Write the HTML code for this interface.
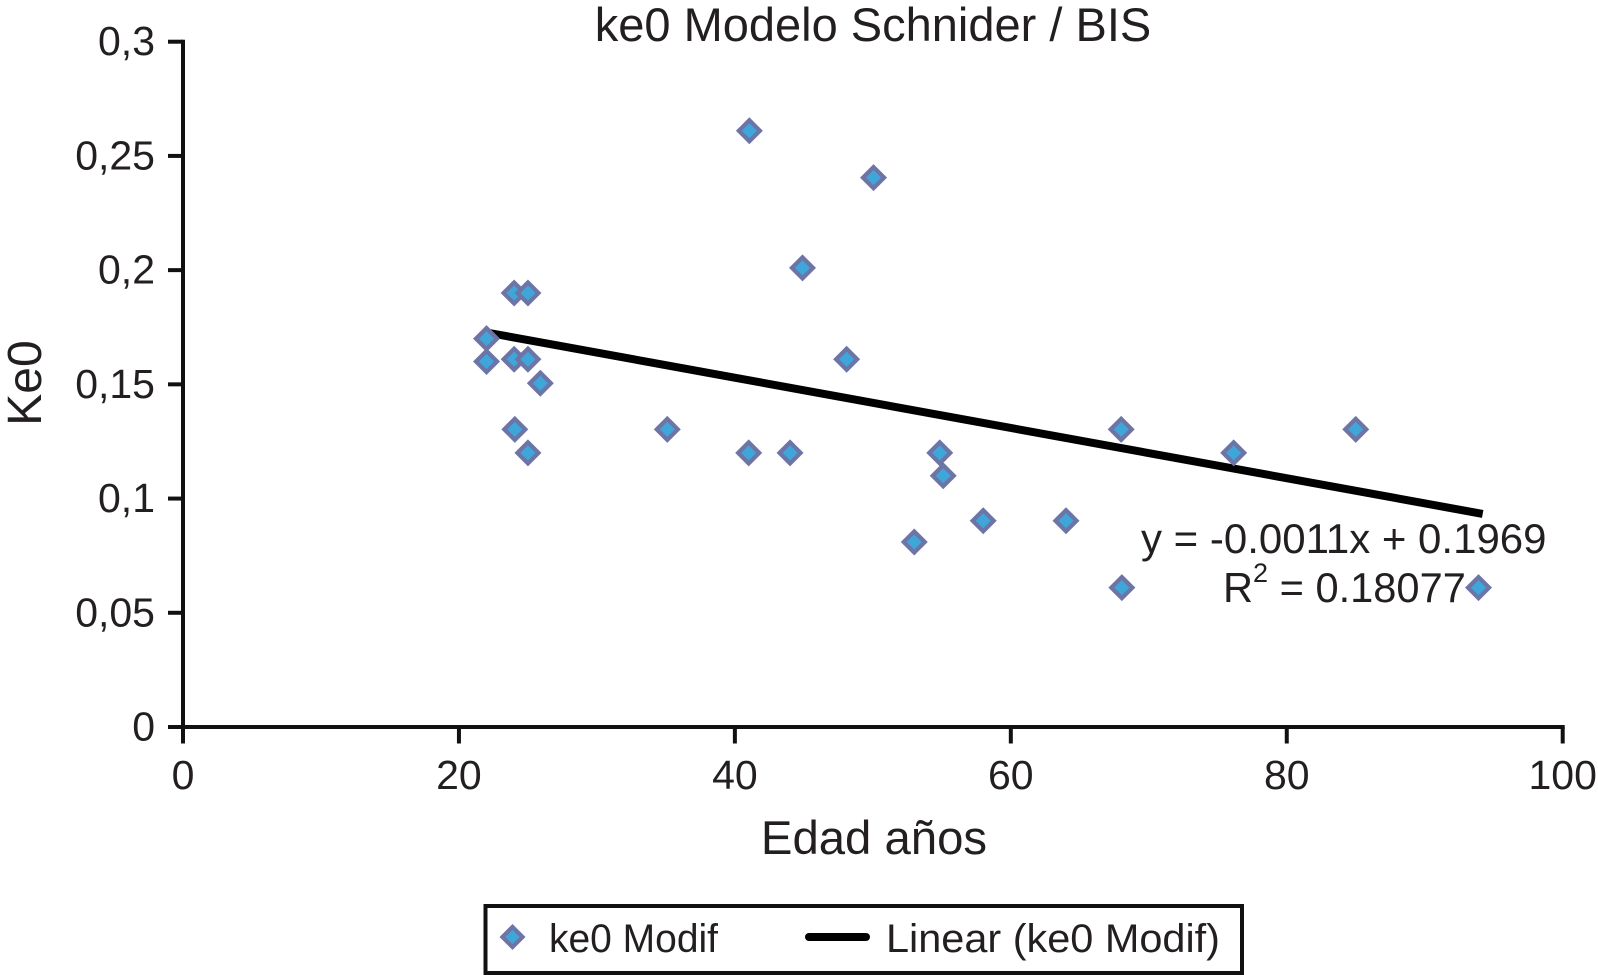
<!DOCTYPE html>
<html lang="es">
<head>
<meta charset="utf-8">
<title>ke0 Modelo Schnider / BIS</title>
<style>
html,body{margin:0;padding:0;background:#fff;width:1598px;height:975px;overflow:hidden}
svg{display:block}
text{font-family:"Liberation Sans",Arial,sans-serif;fill:#231f20}
</style>
</head>
<body>
<svg id="chart" xmlns="http://www.w3.org/2000/svg" width="1598" height="975" viewBox="0 0 1598 975">
  <rect x="0" y="0" width="1598" height="975" fill="#fff"/>
  <text x="873" y="41" font-size="47" text-anchor="middle">ke0 Modelo Schnider / BIS</text>
  <text transform="translate(41 383) rotate(-90)" font-size="48" text-anchor="middle">Ke0</text>
  <text x="874" y="854" font-size="47.3" text-anchor="middle">Edad años</text>
  <g id="axes"></g>
  <g id="trend"></g>
  <g id="points"></g>
  <text x="1141" y="553" font-size="42">y = -0.0011x + 0.1969</text>
  <text x="1223" y="602" font-size="41.6">R<tspan font-size="27" dy="-20">2</tspan><tspan dy="20"> = 0.18077</tspan></text>
  <g>
    <rect x="485.5" y="906" width="756.5" height="67" fill="#fff" stroke="#111" stroke-width="4"/>
    <polygon points="512.5,924 525.5,937 512.5,950 499.5,937" fill="#6d75a6"/>
    <polygon points="512.5,930 519.5,937 512.5,944 505.5,937" fill="#3fa6d9"/>
    <text x="549" y="952" font-size="40" textLength="169" lengthAdjust="spacingAndGlyphs">ke0 Modif</text>
    <line x1="809" y1="937" x2="866" y2="937" stroke="#000" stroke-width="8" stroke-linecap="round"/>
    <text x="886" y="952" font-size="40" textLength="334" lengthAdjust="spacingAndGlyphs">Linear (ke0 Modif)</text>
  </g>
</svg>
<script>
const ages = [22,22,24,25,24,25,25.9,24.05,25,35.1,41.05,41,44,44.9,48.1,50.05,53,54.85,55.1,58,64,68,68.05,76.15,85,93.9];
const ke0Values = [0.17,0.16,0.19,0.19,0.161,0.161,0.1505,0.1303,0.12,0.1303,0.261,0.12,0.12,0.201,0.161,0.2405,0.081,0.12,0.11,0.0903,0.0903,0.1303,0.061,0.12,0.1303,0.061];
const xTickValues = [0,20,40,60,80,100];
const xTickLabels = ['0','20','40','60','80','100'];
const yTickValues = [0,0.05,0.1,0.15,0.2,0.25,0.3];
const yTickLabels = ['0','0,05','0,1','0,15','0,2','0,25','0,3'];
const trendSlope = -0.0011;
const trendIntercept = 0.1969;
const trendRange = [22.2,94.2];

const NS = 'http://www.w3.org/2000/svg';
function xScale(v){ return 183 + v * (1562.7 - 183) / 100; }
function yScale(v){ return 727 - v * (727 - 41.7) / 0.3; }
function make(tag, attrs, parent){
  const el = document.createElementNS(NS, tag);
  for (const k in attrs) el.setAttribute(k, attrs[k]);
  parent.appendChild(el);
  return el;
}
const axes = document.getElementById('axes');
const trend = document.getElementById('trend');
const points = document.getElementById('points');
const axisStyle = {stroke:'#111','stroke-width':4};

const yAxisLine = make('line', Object.assign({x1:xScale(0),y1:yScale(0.3)-2,x2:xScale(0),y2:yScale(0)+2}, axisStyle), axes);


const xAxisLine = make('line', Object.assign({x1:xScale(0),y1:yScale(0),x2:xScale(100)+2,y2:yScale(0)}, axisStyle), axes);



yTickValues.forEach(function(v,i){
  const t = make('line', Object.assign({x1:168,y1:yScale(v),x2:xScale(0),y2:yScale(v)}, axisStyle), axes);
  
  
  const l = make('text', {x:155,y:yScale(v)+13.5,'font-size':41,'text-anchor':'end'}, axes);
  
  
  l.textContent = yTickLabels[i];
});
xTickValues.forEach(function(v,i){
  const t = make('line', Object.assign({x1:xScale(v),y1:yScale(0),x2:xScale(v),y2:743.5}, axisStyle), axes);
  
  
  const l = make('text', {x:xScale(v),y:789,'font-size':41,'text-anchor':'middle'}, axes);
  
  
  l.textContent = xTickLabels[i];
});

const trendLine = make('line', {
  x1:xScale(trendRange[0]), y1:yScale(trendSlope*trendRange[0]+trendIntercept),
  x2:xScale(trendRange[1]), y2:yScale(trendSlope*trendRange[1]+trendIntercept),
  stroke:'#000','stroke-width':8
}, trend);



ages.forEach(function(a,i){
  const cx = xScale(a), cy = yScale(ke0Values[i]);
  const g = make('g', {}, points);
  
  
  make('polygon', {points:[cx,cy-13.5,cx+13.5,cy,cx,cy+13.5,cx-13.5,cy].join(' '),fill:'#6d75a6'}, g);
  make('polygon', {points:[cx,cy-7.5,cx+7.5,cy,cx,cy+7.5,cx-7.5,cy].join(' '),fill:'#3fa6d9'}, g);
});
</script>
</body>
</html>
